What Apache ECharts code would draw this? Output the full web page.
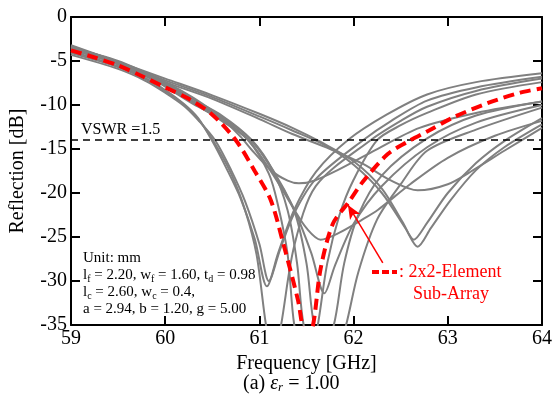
<!DOCTYPE html>
<html lang="en">
<head>
	<meta charset="UTF-8">
	<title>Reflection</title>
	<style>
	body, div {
		margin: 0;
		padding: 0;
	}
	#echart {
		width: 555px;
		height: 398px;
	}
	</style>
</head>
<body>
	<div id="echart"></div>

	<script src="https://cdn.jsdelivr.net/npm/echarts@6/dist/echarts.min.js"></script>

	<script>
	// axis ranges (GHz / dB)
	var freqRange = [59, 64, 1];
	var dbRange = [-35, 0, 5];
	var vswrLevel = -14;

	// simulated parameter sweep: [freq, dB]
	var curveL1 = [[59,-3.9],[59.5,-5.6],[59.8,-7.0],[60,-8.3],[60.2,-9.9],[60.35,-11.5],[60.5,-14.1],[60.65,-17.2],[60.8,-20.6],[60.95,-25.2],[61.08,-30.6],[61.2,-26.8],[61.37,-21.9],[61.6,-17.6],[61.95,-13.9],[62.35,-11.1],[62.78,-8.8],[63.3,-7.4],[64,-6.4]];
	var curveL2 = [[59,-4.3],[59.5,-5.9],[59.8,-7.3],[60,-8.6],[60.2,-10.1],[60.35,-11.7],[60.53,-14.0],[60.7,-17.4],[60.85,-21],[61.0,-25.8],[61.1,-30.0],[61.22,-26.4],[61.37,-22.3],[61.6,-18.4],[62.1,-14.0],[62.4,-11.8],[62.78,-9.5],[63.3,-8.0],[64,-6.8]];
	var curveC1 = [[59,-4.1],[59.5,-5.7],[59.8,-7.1],[60,-8.4],[60.2,-10.0],[60.35,-11.6],[60.5,-13.9],[60.7,-17.8],[60.85,-22],[60.97,-27],[61.07,-35],[61.15,-39],[61.23,-35],[61.37,-26],[61.6,-19.2],[62.18,-14],[62.5,-11.8],[62.78,-10.2],[63.3,-8.4],[64,-7.0]];
	var curveC2 = [[59,-3.6],[59.5,-5.3],[59.8,-6.7],[60,-7.9],[60.3,-9.9],[60.6,-11.6],[60.88,-14.0],[61.1,-17.8],[61.2,-21.5],[61.3,-27],[61.37,-35],[61.5,-41],[61.62,-35],[61.72,-28],[61.85,-22.5],[62.0,-18.5],[62.25,-14],[62.5,-12.3],[62.78,-10.9],[63.3,-8.8],[64,-7.4]];
	var curveC3 = [[59,-3.5],[59.5,-5.1],[60,-7.6],[60.3,-9.6],[60.6,-11.4],[60.92,-14],[61.15,-17.6],[61.3,-22],[61.4,-28],[61.47,-35],[61.62,-40],[61.79,-35],[61.9,-28],[62.05,-22.5],[62.3,-18],[62.78,-13.8],[63.3,-11.2],[64,-9.6]];
	var curveC4 = [[59,-3.7],[59.5,-5.4],[60,-7.8],[60.3,-9.8],[60.6,-11.8],[60.95,-14.5],[61.2,-18.6],[61.37,-22],[61.5,-28],[61.58,-35],[61.75,-41],[61.92,-35],[62.05,-29],[62.25,-23],[62.5,-19],[62.78,-15.2],[63.3,-12.8],[64,-10.3]];
	var curveL6 = [[59,-3.4],[59.5,-5.1],[60,-7.5],[60.3,-9.4],[60.6,-11.2],[60.9,-13.8],[61.15,-17.5],[61.37,-21.9],[61.55,-26.8],[61.69,-31.4],[61.8,-28.3],[62.0,-23.5],[62.3,-19.2],[62.78,-14.8],[63.3,-12],[64,-10.0]];
	var curveL7 = [[59,-3.6],[59.5,-5.2],[60,-7.7],[60.3,-9.7],[60.6,-11.5],[60.9,-14.2],[61.15,-18],[61.37,-21.9],[61.5,-24],[61.65,-25.3],[61.85,-24.5],[62.08,-23.1],[62.26,-21.9],[62.6,-19],[63,-16],[63.5,-13.5],[64,-11.8]];
	var curveL8 = [[59,-3.5],[59.5,-5.0],[60,-7.4],[60.3,-9.2],[60.6,-11.5],[60.8,-13.6],[60.91,-15],[61.12,-17.4],[61.3,-18.6],[61.42,-18.9],[61.58,-18.6],[61.83,-17.4],[62.2,-15.3],[62.7,-12.6],[63.3,-10.9],[64,-9.6]];
	var curveR1 = [[59,-3.3],[59.5,-5.2],[60,-7.2],[60.5,-9.1],[61,-11.3],[61.35,-12.9],[61.7,-14.6],[62.0,-16.8],[62.3,-20],[62.55,-24],[62.68,-26.1],[62.82,-24],[63.03,-20.8],[63.3,-17.4],[63.6,-14.8],[64,-12.2]];
	var curveR2 = [[59,-3.2],[59.5,-5.1],[60,-7.0],[60.5,-8.9],[61,-11.0],[61.35,-12.6],[61.65,-14.2],[62.0,-16.4],[62.3,-19.5],[62.52,-23.3],[62.64,-25.3],[62.78,-23.4],[63.0,-20],[63.3,-16.6],[63.6,-14.1],[64,-11.5]];
	var curveR3 = [[59,-3.4],[59.5,-5.3],[60,-7.4],[60.5,-9.3],[61,-11.6],[61.35,-13.3],[61.75,-15],[62.1,-16.7],[62.4,-18.6],[62.68,-19.7],[63.0,-19.0],[63.27,-17.4],[63.6,-15.2],[64,-12.6]];

	// 2x2-element sub-array
	var subArray = [[59,-3.8],[59.25,-4.6],[59.5,-5.5],[59.75,-6.7],[60,-8.0],[60.25,-9.3],[60.5,-11.1],[60.75,-14],[60.95,-17.5],[61.12,-20.8],[61.26,-26],[61.41,-32.2],[61.5,-37],[61.57,-35],[61.65,-28.6],[61.78,-23.5],[61.95,-21],[62.1,-18.7],[62.36,-15.6],[62.57,-14.2],[62.8,-12.9],[63.06,-11.4],[63.42,-9.8],[63.77,-8.6],[64,-8.1]];

	var grayCurves = [curveL1, curveL2, curveC1, curveC2, curveC3, curveC4, curveL6, curveL7, curveL8, curveR1, curveR2, curveR3];

	// arrow pointing at the sub-array curve
	var arrowFrom = [62.31, -27.95];
	var arrowTo = [61.94, -21.36];

	var serif = '"Liberation Serif", "Times New Roman", serif';

	function makeAxis(pos, range, showLabel) {
		return {
			type: 'value',
			position: pos,
			min: range[0],
			max: range[1],
			interval: range[2],
			splitLine: { show: false },
			axisLine: { show: true, onZero: false, lineStyle: { color: '#000', width: 2 } },
			axisTick: { show: true, inside: true, length: 9, lineStyle: { color: '#000', width: 2 } },
			axisLabel: {
				show: showLabel,
				color: '#000',
				fontFamily: serif,
				fontSize: 20,
				margin: 4
			}
		};
	}

	var myEchart = echarts.init(document.getElementById('echart'));

	var xBottom = makeAxis('bottom', freqRange, true);
	xBottom.name = 'Frequency [GHz]';
	xBottom.nameLocation = 'middle';
	xBottom.nameGap = 27;
	xBottom.nameTextStyle = { color: '#000', fontFamily: serif, fontSize: 20 };

	var yLeft = makeAxis('left', dbRange, true);
	yLeft.name = 'Reflection [dB]';
	yLeft.nameLocation = 'middle';
	yLeft.nameGap = 43;
	yLeft.nameTextStyle = { color: '#000', fontFamily: serif, fontSize: 20 };

	var series = grayCurves.map(function (c) {
		return {
			type: 'line',
			data: c,
			smooth: 0.3,
			symbol: 'none',
			silent: true,
			lineStyle: { color: '#808080', width: 2 }
		};
	});

	series.push({
		type: 'line',
		data: subArray,
		smooth: 0.3,
		symbol: 'none',
		silent: true,
		z: 5,
		lineStyle: { color: '#ff0000', width: 4, type: [11, 6] },
		markLine: {
			silent: true,
			animation: false,
			symbol: 'none',
			label: { show: false },
			data: [
				{ yAxis: vswrLevel, lineStyle: { color: '#000', width: 1.5, type: [7, 5] } },
				[
					{ coord: arrowFrom, symbol: 'none', lineStyle: { color: '#ff0000', width: 1.5, type: 'solid' } },
					{ coord: arrowTo, symbol: 'arrow', symbolSize: [9, 14] }
				]
			]
		}
	});

	var option = {
		animation: false,
		grid: {
			left: 69,
			right: 13,
			top: 17,
			bottom: 73
		},
		xAxis: [xBottom, makeAxis('top', freqRange, false)],
		yAxis: [yLeft, makeAxis('right', dbRange, false)],
		series: series,
		graphic: [
			{
				type: 'text',
				left: 81,
				top: 122,
				style: { text: 'VSWR =1.5', fill: '#000', font: '16px ' + serif }
			},
			{
				type: 'text',
				left: 83,
				top: 250,
				style: {
					text: 'Unit: mm\n' +
						'l{sub|f} = 2.20, w{sub|f} = 1.60, t{sub|d} = 0.98\n' +
						'l{sub|c} = 2.60, w{sub|c} = 0.4,\n' +
						'a = 2.94, b = 1.20, g = 5.00',
					fill: '#000',
					font: '15px ' + serif,
					lineHeight: 17,
					rich: {
						sub: { fontSize: 10, fontFamily: serif, verticalAlign: 'bottom', lineHeight: 10, fill: '#000' }
					}
				}
			},
			{
				type: 'line',
				shape: { x1: 372, y1: 272, x2: 397, y2: 272 },
				style: { stroke: '#ff0000', lineWidth: 4, lineDash: [7, 3] }
			},
			{
				type: 'text',
				left: 399,
				top: 263,
				style: { text: ': 2x2-Element', fill: '#ff0000', font: '18px ' + serif }
			},
			{
				type: 'text',
				left: 413,
				top: 285,
				style: { text: 'Sub-Array', fill: '#ff0000', font: '18px ' + serif }
			},
			{
				type: 'text',
				left: 243,
				top: 374,
				style: {
					text: '(a) {it|ε}{sub|r} = 1.00',
					fill: '#000',
					font: '20px ' + serif,
					rich: {
						it: { fontStyle: 'italic', fontSize: 20, fontFamily: serif, fill: '#000' },
						sub: { fontStyle: 'italic', fontSize: 13, fontFamily: serif, verticalAlign: 'bottom', fill: '#000' }
					}
				}
			}
		]
	};

	myEchart.setOption(option);
	</script>
</body>
</html>
